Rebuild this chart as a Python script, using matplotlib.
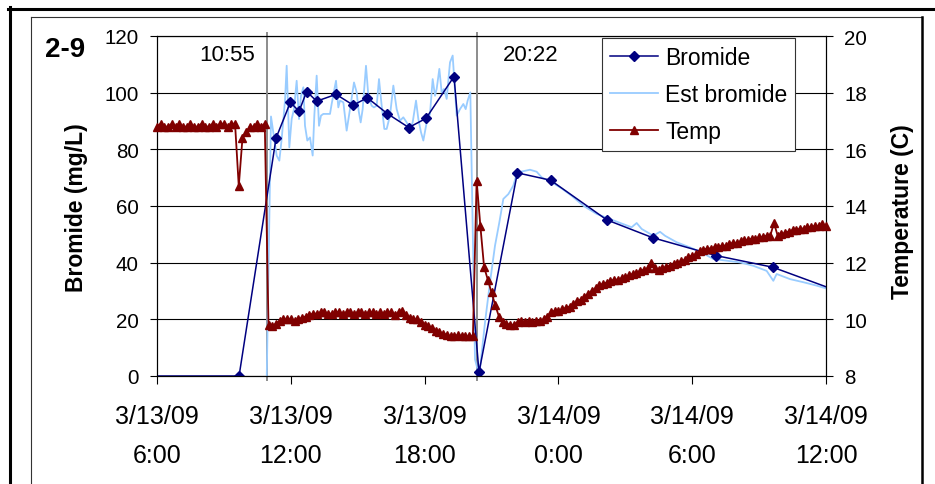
import matplotlib
matplotlib.use('Agg')
import matplotlib.pyplot as plt
from matplotlib.lines import Line2D
import numpy as np

plt.rcParams['font.family'] = ['Liberation Sans', 'DejaVu Sans']

# ---------------- data (x = hours since 3/13/09 0:00) ----------------
tick_hours = [6, 12, 18, 24, 30, 36]
tick_labels = ['3/13/09\n6:00', '3/13/09\n12:00', '3/13/09\n18:00',
               '3/14/09\n0:00', '3/14/09\n6:00', '3/14/09\n12:00']

bromide_hours = [5.73, 9.68, 11.34, 11.98, 12.37, 12.71, 13.16, 14.03, 14.80,
                 15.43, 16.33, 17.29, 18.06, 19.32, 20.44, 22.16, 23.65, 26.17,
                 28.23, 31.07, 33.61, 37.0]
bromide_vals = [0, 0, 84.0, 96.6, 93.4, 100.4, 97.0, 99.4, 95.6,
                98.2, 92.6, 87.7, 90.9, 105.7, 1.3, 71.7, 69.1, 55.1,
                48.8, 42.5, 38.4, 28.6]

est_hours = [9.36, 10.90, 10.92, 11.112, 11.366, 11.486, 11.590, 11.740, 11.815, 11.934,
             12.039, 12.143, 12.263, 12.368, 12.457, 12.562, 12.637, 12.741,
             12.861, 12.981, 13.055, 13.160, 13.265, 13.354, 13.459, 13.758,
             13.832, 14.027, 14.131, 14.206, 14.356, 14.505, 14.655, 14.834,
             14.954, 15.043, 15.133, 15.223, 15.372, 15.477, 15.626, 15.731,
             15.851, 15.955, 16.075, 16.194, 16.299, 16.448, 16.598, 16.747,
             16.897, 17.046, 17.196, 17.345, 17.465, 17.615, 17.719, 17.839,
             17.943, 18.093, 18.242, 18.362, 18.466, 18.541, 18.661, 18.765,
             18.870, 18.990, 19.139, 19.259, 19.318, 19.438, 19.588, 19.737,
             19.842, 19.931, 20.05, 20.26, 20.45, 20.709, 20.933, 21.157,
             21.351, 21.531, 21.755, 21.979, 22.129, 22.203, 22.726, 23.025,
             23.249, 23.698, 24.146, 24.595, 25.118, 25.716, 26.313, 26.911,
             27.285, 27.510, 27.734, 28.257, 28.556, 28.780, 29.303, 29.901,
             30.424, 30.947, 31.545, 32.143, 32.741, 33.339, 33.638, 33.787,
             34.385, 34.983, 35.581, 36.179]
est_vals = [-1.5, -1.5, -1.0, 91.6, 77.8, 76.0, 83.6, 97.2, 109.5, 80.7,
            90.7, 94.2, 104.2, 90.7, 98.9, 101.9, 88.3, 83.1,
            84.2, 77.8, 91.9, 106.0, 88.3, 91.9, 92.5, 92.5,
            96.0, 104.2, 94.8, 97.2, 96.6, 86.6, 94.2, 103.6,
            100.1, 93.6, 89.5, 94.2, 109.5, 98.9, 95.4, 94.8,
            95.4, 104.8, 95.4, 87.2, 87.2, 91.9, 102.5, 94.2,
            90.1, 91.3, 89.5, 87.2, 89.5, 97.2, 90.7, 86.0,
            83.1, 89.5, 92.5, 104.8, 98.9, 101.3, 108.4, 100.1,
            101.3, 97.8, 110.7, 113.1, 106.0, 91.9, 94.2, 96.0,
            94.2, 97.2, 100.1, 5.9, 0.1, 18.9, 33.1, 46.0,
            54.2, 62.5, 64.2, 67.2, 71.3, 71.9, 72.8, 72.1,
            70.1, 68.4, 66.2, 63.6, 60.1, 57.2, 55.4, 53.6,
            52.5, 54.0, 51.9, 49.5, 50.9, 49.5, 47.2, 45.4,
            43.6, 41.3, 40.7, 40.1, 38.9, 37.1, 33.6, 36.0,
            34.2, 33.1, 31.9, 30.5]

# temperature, logged every 10 minutes from 3/13/09 6:00
temp_start_hour = 6.0
temp_vals = [
    16.8, 16.9, 16.8, 16.8, 16.9, 16.8, 16.9, 16.8, 16.8, 16.9, 16.8,
    16.8, 16.9, 16.8, 16.8, 16.9, 16.8, 16.9, 16.9, 16.8, 16.9, 16.9,
    14.7,
    16.4, 16.6, 16.8, 16.8, 16.9, 16.8, 16.9,
    9.8, 9.75, 9.85, 9.95, 10.0, 10.0, 10.0, 9.95, 10.0, 10.05, 10.1,
    10.15, 10.2, 10.2, 10.25, 10.25, 10.2, 10.2, 10.25,
    10.25, 10.2, 10.25, 10.25, 10.2, 10.25, 10.25, 10.2, 10.25, 10.25,
    10.2, 10.25, 10.2, 10.25,
    10.25, 10.15, 10.25, 10.3, 10.15, 10.05, 10.0, 10.0, 9.9, 9.8, 9.75,
    9.7, 9.6, 9.55, 9.5, 9.45, 9.4, 9.4, 9.45, 9.4, 9.4, 9.4, 9.4,
    14.9, 13.3, 11.85, 11.4, 10.95, 10.5, 10.1, 9.9, 9.85, 9.8, 9.8,
    9.9, 9.95, 9.9, 9.95, 9.9, 9.95, 9.95,
    10.0, 10.1, 10.25, 10.3, 10.3, 10.35, 10.4, 10.45, 10.55, 10.65,
    10.7, 10.8, 10.9, 11.0, 11.1, 11.2, 11.25, 11.3, 11.35, 11.4,
    11.4, 11.45, 11.5, 11.55, 11.6, 11.65, 11.7, 11.75, 11.8, 12.0,
    11.8, 11.75, 11.8, 11.85, 11.9, 11.95, 12.0, 12.05, 12.1, 12.2,
    12.25, 12.3, 12.4, 12.45, 12.5, 12.5, 12.55, 12.55, 12.6, 12.6,
    12.65, 12.7, 12.7, 12.75, 12.8, 12.8, 12.85, 12.85, 12.9, 12.9,
    12.95, 12.95, 13.4, 12.95, 13.0, 13.05, 13.1, 13.15, 13.15, 13.2,
    13.2, 13.25, 13.25, 13.3, 13.3, 13.35, 13.3]
temp_hours = temp_start_hour + np.arange(len(temp_vals)) / 6.0

event_hours = [10 + 55 / 60, 20 + 22 / 60]
event_labels = ['10:55', '20:22']

left_ticks = [0, 20, 40, 60, 80, 100, 120]
right_ticks = [8, 10, 12, 14, 16, 18, 20]

# ---------------- styling ----------------
W, H = 935, 485
fx = lambda px: px / W
fy = lambda py: 1 - py / H

C_BR = '#000080'
C_EST = '#99CCFF'
C_T = '#800000'

fig = plt.figure(figsize=(W / 100, H / 100), dpi=100)
fig.patch.set_facecolor('white')

ax = fig.add_axes([fx(157), fy(377), (826 - 157) / W, (377 - 37) / H])
ax.set_xlim(tick_hours[0], tick_hours[-1])
ax.set_ylim(left_ticks[0], left_ticks[-1])
ax.set_yticks(left_ticks)
ax.set_xticks(tick_hours)
ax.set_xticklabels(tick_labels, fontsize=18, linespacing=1.75)
ax.tick_params(axis='x', direction='out', length=5.5, width=0.8, pad=15)
ax.tick_params(axis='y', direction='out', length=5, width=0.8, pad=8, labelsize=14.8)
ax.yaxis.grid(True, color='black', lw=0.8)
ax.set_axisbelow(True)
for s in ax.spines.values():
    s.set_color('black')
    s.set_linewidth(0.8)

# event lines
for h, lab in zip(event_hours, event_labels):
    ax.axvline(h, ymin=-0.013, ymax=1.009, color='#8c8c8c', lw=1.4, clip_on=False, zorder=1.5)
ax.text(event_hours[0] - 0.5, 113.5, event_labels[0], ha='right', va='center', fontsize=16)
ax.text(event_hours[1] + 1.15, 113.5, event_labels[1], ha='left', va='center', fontsize=16)

ax.plot(est_hours, est_vals, color=C_EST, lw=1.3, zorder=2)
ax.plot(bromide_hours, bromide_vals, color=C_BR, lw=1.1, marker='D', ms=5.4,
        mfc=C_BR, mec=C_BR, zorder=3)

ax2 = ax.twinx()
ax2.set_ylim(right_ticks[0], right_ticks[-1])
ax2.set_yticks(right_ticks)
ax2.tick_params(axis='y', direction='out', length=5, width=0.8, pad=8, labelsize=14.8)
for s in ax2.spines.values():
    s.set_color('black')
    s.set_linewidth(0.8)
ax2.plot(temp_hours, temp_vals, color=C_T, lw=1.3, marker='^', ms=5.4,
         mfc=C_T, mec=C_T, clip_on=False, zorder=3)

# axis titles
fig.text(fx(77), fy(208), 'Bromide (mg/L)', rotation=90, ha='center', va='center',
         fontsize=16.5, fontweight='bold')
fig.text(fx(903), fy(212), 'Temperature (C)', rotation=90, ha='center', va='center',
         fontsize=16.5, fontweight='bold')
fig.text(fx(45), fy(50), '2-9', ha='left', va='center', fontsize=20, fontweight='bold')

# legend
handles = [Line2D([], [], color=C_BR, lw=1.1, marker='D', ms=5.4),
           Line2D([], [], color=C_EST, lw=1.3),
           Line2D([], [], color=C_T, lw=1.3, marker='^', ms=5.4)]
leg = fig.legend(handles, ['Bromide', 'Est bromide', 'Temp'], loc='upper left',
                 bbox_to_anchor=(fx(602), fy(39)), fontsize=16.5, frameon=True,
                 fancybox=False, edgecolor='#333333', framealpha=1,
                 handlelength=2.1, handletextpad=0.3, labelspacing=0.62,
                 borderpad=0.35, borderaxespad=0, numpoints=1)
leg.get_frame().set_linewidth(0.8)

# outer frames
def fline(xs, ys, **kw):
    fig.add_artist(Line2D([fx(x) for x in xs], [fy(y) for y in ys],
                          transform=fig.transFigure, **kw))

fline([8, 935], [9.5, 9.5], color='black', lw=2.2)
fline([9.5, 9.5], [8, 485], color='black', lw=2.2)
fline([31, 922], [18, 18], color='#333333', lw=0.8)
fline([31, 31], [18, 485], color='#333333', lw=0.8)
fline([921.5, 921.5], [18, 485], color='black', lw=1.8)

fig.savefig('out.png', dpi=100, facecolor='white')
